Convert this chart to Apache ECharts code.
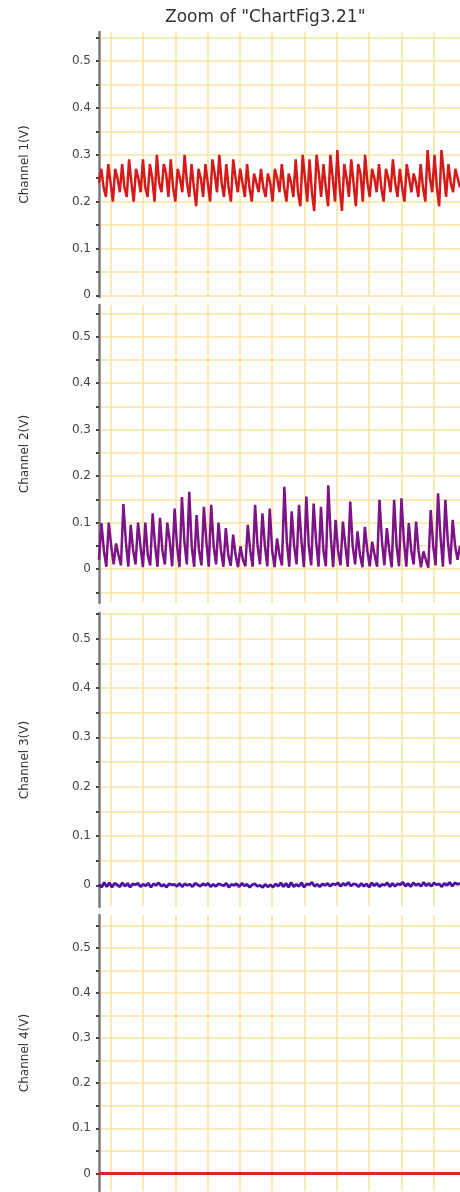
<!DOCTYPE html>
<html>
<head>
<meta charset="utf-8">
<title>Zoom of "ChartFig3.21"</title>
<script src="https://cdn.jsdelivr.net/npm/echarts@6/dist/echarts.min.js"></script>
<style>
  html, body { margin: 0; padding: 0; background: #fff; }
  #chart { width: 460px; height: 1192px; }
</style>
</head>
<body>
<div id="chart"></div>
<script>
// visible time window (one vertical grid line per unit)
var tStart = -0.37
var tEnd = 10.82

var channelNames = ['Channel 1(V)', 'Channel 2(V)', 'Channel 3(V)', 'Channel 4(V)']

// Channel 1 (V): peak, middle, trough per cycle
var ch1 = [
  0.24,
  0.27, 0.23, 0.21, 0.28, 0.24, 0.20, 0.27, 0.25, 0.22, 0.28, 0.23, 0.21, 0.29, 0.24, 0.20,
  0.27, 0.25, 0.22, 0.29, 0.23, 0.21, 0.28, 0.25, 0.20, 0.30, 0.24, 0.22, 0.28, 0.26, 0.21,
  0.29, 0.23, 0.20, 0.27, 0.25, 0.22, 0.30, 0.24, 0.21, 0.28, 0.23, 0.19, 0.27, 0.25, 0.21,
  0.28, 0.24, 0.20, 0.29, 0.26, 0.22, 0.30, 0.24, 0.21, 0.28, 0.23, 0.20, 0.29, 0.25, 0.22,
  0.27, 0.24, 0.21, 0.28, 0.23, 0.20, 0.26, 0.24, 0.22, 0.27, 0.23, 0.21, 0.26, 0.24, 0.20,
  0.27, 0.25, 0.22, 0.28, 0.23, 0.20, 0.26, 0.24, 0.21, 0.29, 0.22, 0.19, 0.30, 0.25, 0.20,
  0.29, 0.22, 0.18, 0.30, 0.26, 0.21, 0.28, 0.23, 0.19, 0.30, 0.25, 0.20, 0.31, 0.23, 0.18,
  0.28, 0.25, 0.21, 0.29, 0.24, 0.19, 0.28, 0.26, 0.20, 0.30, 0.24, 0.21, 0.27, 0.25, 0.22,
  0.28, 0.23, 0.20, 0.27, 0.25, 0.22, 0.29, 0.24, 0.21, 0.27, 0.23, 0.20, 0.28, 0.25, 0.22,
  0.26, 0.24, 0.21, 0.28, 0.23, 0.20, 0.31, 0.25, 0.22, 0.30, 0.23, 0.19, 0.31, 0.26, 0.21,
  0.28, 0.24, 0.22, 0.27, 0.25, 0.23
]

// Channel 2 (V): spike, shoulder, baseline
var ch2 = [
  0.02,
  0.099, 0.04, 0.005, 0.100, 0.05, 0.010, 0.055, 0.03, 0.008, 0.140, 0.06, 0.005, 0.095, 0.04, 0.010,
  0.100, 0.05, 0.004, 0.100, 0.03, 0.008, 0.120, 0.05, 0.005, 0.110, 0.04, 0.010, 0.100, 0.06, 0.006,
  0.130, 0.05, 0.004, 0.155, 0.06, 0.010, 0.166, 0.05, 0.005, 0.116, 0.04, 0.008, 0.134, 0.06, 0.005,
  0.138, 0.05, 0.010, 0.100, 0.04, 0.005, 0.088, 0.03, 0.007, 0.074, 0.03, 0.004, 0.049, 0.02, 0.006,
  0.095, 0.04, 0.005, 0.138, 0.05, 0.010, 0.120, 0.05, 0.006, 0.130, 0.04, 0.004, 0.066, 0.03, 0.008,
  0.177, 0.06, 0.005, 0.124, 0.05, 0.010, 0.138, 0.06, 0.004, 0.156, 0.05, 0.008, 0.141, 0.06, 0.005,
  0.134, 0.04, 0.006, 0.180, 0.07, 0.004, 0.106, 0.04, 0.008, 0.102, 0.05, 0.005, 0.145, 0.05, 0.010,
  0.081, 0.03, 0.004, 0.091, 0.04, 0.006, 0.059, 0.03, 0.005, 0.149, 0.06, 0.008, 0.088, 0.04, 0.004,
  0.149, 0.05, 0.006, 0.152, 0.06, 0.005, 0.099, 0.04, 0.010, 0.102, 0.04, 0.004, 0.038, 0.02, 0.003,
  0.127, 0.05, 0.008, 0.163, 0.07, 0.005, 0.149, 0.06, 0.010, 0.106, 0.05, 0.020,
  0.05
]

// Channel 3 (V)
var ch3 = [
  0.002, -0.004, 0.006, -0.003, 0.005, -0.004, 0.004, 0.001, -0.003, 0.005, -0.002, 0.004, -0.004, 0.003, 0.001, 0.004, -0.003, 0.002, -0.001, 0.004,
  -0.004, 0.003, 0.000, 0.005, -0.002, 0.002, -0.004, 0.003, 0.001, 0.002, -0.002, 0.004, -0.003, 0.003, 0.000, 0.002, -0.003, 0.004, 0.001, -0.002,
  0.003, 0.000, 0.004, -0.003, 0.002, -0.002, 0.003, 0.001, -0.001, 0.004, -0.004, 0.002, 0.000, 0.003, -0.003, 0.004, -0.001, 0.002, -0.004, 0.001,
  0.003, -0.002, 0.000, -0.004, 0.002, -0.003, 0.001, -0.004, 0.003, -0.002, 0.005, -0.003, 0.004, -0.004, 0.006, -0.003, 0.002, -0.002, 0.005, -0.004,
  0.003, 0.001, 0.006, -0.002, 0.002, -0.003, 0.003, 0.000, 0.004, -0.002, 0.003, 0.001, 0.005, -0.002, 0.004, 0.000, 0.006, -0.001, 0.003, 0.002,
  -0.003, 0.004, -0.002, 0.003, -0.004, 0.005, -0.001, 0.004, -0.003, 0.002, 0.000, 0.005, -0.003, 0.004, -0.002, 0.003, 0.001, 0.006, -0.002, 0.004,
  -0.003, 0.005, 0.000, 0.003, -0.002, 0.006, -0.001, 0.004, -0.002, 0.005, 0.001, 0.003, -0.003, 0.004, 0.000, 0.006, -0.002, 0.005, 0.002, 0.004
]

// Channel 4 (V)
var ch4 = [0, 0, 0, 0, 0, 0, 0, 0, 0, 0, 0, 0]

var channels = [ch1, ch2, ch3, ch4]
var colors = ['#d61a1a', '#7c1386', '#4d12a6', '#e0231c']
var widths = [2.5, 2.5, 2.8, 3]

// panel layout: top / height in px, y range
var panels = [
  { top: 32, height: 265, min: -0.0036, max: 0.562 },
  { top: 305, height: 298, min: -0.073, max: 0.568 },
  { top: 613, height: 294, min: -0.044, max: 0.552 },
  { top: 915, height: 276, min: -0.039, max: 0.573 }
]

function withTime(values) {
  var step = (tEnd - tStart) / (values.length - 1)
  return values.map(function(v, i) {
    return [tStart + i * step, v]
  })
}

var gridColor = '#f8e3a0'

var option = {
  animation: false,
  backgroundColor: '#fff',
  title: {
    text: 'Zoom of "ChartFig3.21"',
    left: 160,
    top: 4,
    textStyle: {
      fontFamily: 'DejaVu Sans',
      fontSize: 17,
      fontWeight: 'normal',
      color: '#333'
    }
  },
  grid: [],
  xAxis: [],
  yAxis: [],
  series: []
}

panels.forEach(function(p, i) {
  option.grid.push({
    left: 99,
    right: 0,
    top: p.top,
    height: p.height,
    containLabel: false
  })
  option.xAxis.push({
    type: 'value',
    gridIndex: i,
    min: tStart,
    max: tEnd,
    minInterval: 1,
    maxInterval: 1,
    axisLine: { show: false },
    axisTick: { show: false },
    axisLabel: { show: false },
    splitLine: {
      show: true,
      showMinLine: false,
      showMaxLine: false,
      lineStyle: { color: gridColor, width: 1.5 }
    }
  })
  option.yAxis.push({
    type: 'value',
    gridIndex: i,
    min: p.min,
    max: p.max,
    minInterval: 0.05,
    maxInterval: 0.05,
    name: channelNames[i],
    nameLocation: 'middle',
    nameGap: 68,
    nameTextStyle: {
      fontFamily: 'DejaVu Sans',
      fontSize: 12,
      color: '#333'
    },
    axisLine: {
      show: true,
      onZero: false,
      lineStyle: { color: '#7a7a7a', width: 2.5 }
    },
    axisTick: {
      show: true,
      length: 3,
      lineStyle: { color: '#444', width: 2 }
    },
    axisLabel: {
      showMinLabel: false,
      showMaxLabel: false,
      margin: 8,
      fontFamily: 'DejaVu Sans',
      fontSize: 12,
      color: '#444',
      formatter: function(v) {
        var hundredths = Math.round(v * 100)
        if (hundredths % 10 !== 0) return ''
        return String(+(hundredths / 100).toFixed(1))
      }
    },
    splitLine: {
      show: true,
      showMinLine: false,
      showMaxLine: false,
      lineStyle: { color: gridColor, width: 1.5 }
    }
  })
  option.series.push({
    name: channelNames[i],
    type: 'line',
    xAxisIndex: i,
    yAxisIndex: i,
    data: withTime(channels[i]),
    showSymbol: false,
    clip: true,
    lineStyle: { color: colors[i], width: widths[i] },
    itemStyle: { color: colors[i] }
  })
})

var chart = echarts.init(document.getElementById('chart'))
chart.setOption(option)
</script>
</body>
</html>
